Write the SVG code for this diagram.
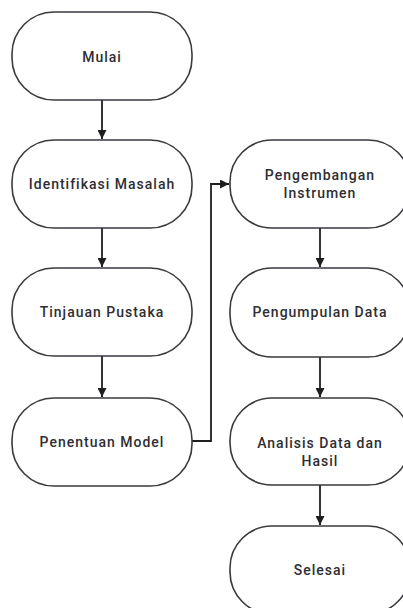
<svg xmlns="http://www.w3.org/2000/svg" width="403" height="608" viewBox="0 0 403 608">
<style>
.n{fill:#fff;stroke:#3a3a3f;stroke-width:1.6}
.t{font-family:Roboto,"Liberation Sans",sans-serif;font-size:14px;font-weight:500;fill:#2e2e33;text-anchor:middle;letter-spacing:1px}
.c{fill:none;stroke:#1e1e1e;stroke-width:1.8}
</style>
<defs>
<marker id="ah" viewBox="0 0 10 10" refX="10" refY="5" markerWidth="5.5" markerHeight="5" orient="auto" markerUnits="strokeWidth">
<path d="M0,0 L10,5 L0,10 z" fill="#1e1e1e"/>
</marker>
</defs>
<rect width="403" height="608" fill="#fff"/>
<g id="connectors">
<path class="c" d="M102,100 V139" marker-end="url(#ah)"/>
<path class="c" d="M102,228 V267" marker-end="url(#ah)"/>
<path class="c" d="M102,356 V397" marker-end="url(#ah)"/>
<path class="c" d="M190,441 H211 V184 H229" marker-end="url(#ah)"/>
<path class="c" d="M320,228 V267" marker-end="url(#ah)"/>
<path class="c" d="M320,357 V397" marker-end="url(#ah)"/>
<path class="c" d="M320,485 V525" marker-end="url(#ah)"/>
</g>
<g id="mulai"><rect class="n" x="12" y="12" width="180" height="88" rx="42"/><text class="t" x="102" y="62">Mulai</text></g>
<g id="identifikasi"><rect class="n" x="12" y="140" width="180" height="88" rx="42"/><text class="t" x="102" y="189">Identifikasi Masalah</text></g>
<g id="tinjauan"><rect class="n" x="12" y="268" width="180" height="88" rx="42"/><text class="t" x="102" y="317">Tinjauan Pustaka</text></g>
<g id="penentuan"><rect class="n" x="12" y="398" width="180" height="88" rx="42"/><text class="t" x="102" y="447">Penentuan Model</text></g>
<g id="pengembangan"><rect class="n" x="230" y="140" width="180" height="88" rx="42"/><text class="t" x="320" y="180">Pengembangan</text><text class="t" x="320" y="198">Instrumen</text></g>
<g id="pengumpulan"><rect class="n" x="230" y="268" width="180" height="89" rx="42"/><text class="t" x="320" y="317">Pengumpulan Data</text></g>
<g id="analisis"><rect class="n" x="230" y="398" width="180" height="87" rx="42"/><text class="t" x="320" y="448">Analisis Data dan</text><text class="t" x="320" y="466">Hasil</text></g>
<g id="selesai"><rect class="n" x="230" y="526" width="180" height="88" rx="42"/><text class="t" x="320" y="575">Selesai</text></g>
</svg>
